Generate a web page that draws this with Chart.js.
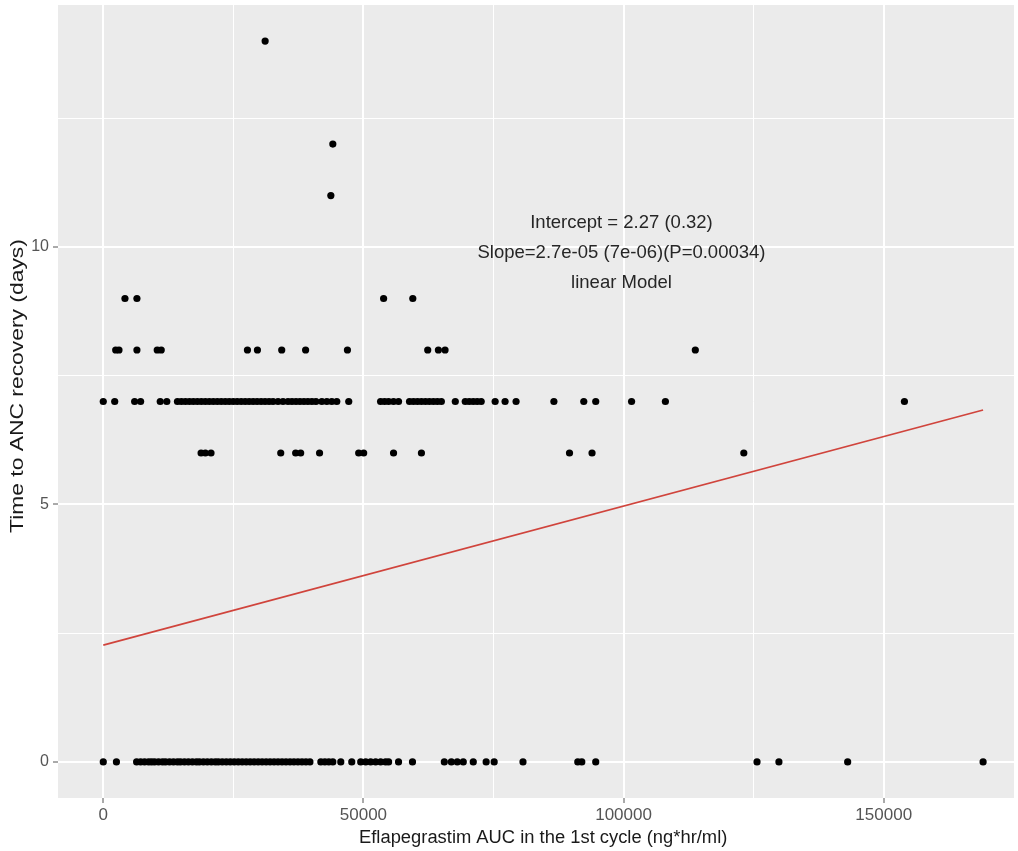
<!DOCTYPE html>
<html>
<head>
<meta charset="utf-8">
<title>Time to ANC recovery vs Eflapegrastim AUC</title>
<script src="https://cdn.jsdelivr.net/npm/chart.js@4.4.1/dist/chart.umd.min.js"></script>
<style>
  html, body { margin: 0; padding: 0; background: #ffffff; }
  #wrap { width: 1018px; height: 851px; }
</style>
</head>
<body>
<div id="wrap"><canvas id="c" width="1018" height="851"></canvas></div>
<script>
// Eflapegrastim AUC (ng*hr/ml) of each patient, grouped by time to ANC recovery (days)
const aucDays0 = [0, 2530, 6410, 7180, 7940, 8710, 9280, 9860, 10620, 11390, 11960, 12730,
  13490, 14260, 14830, 15600, 16360, 17130, 17900, 18470, 19240, 20000, 20770, 21530,
  22110, 22870, 23640, 24400, 25170, 25940, 26700, 27470, 28230, 29000, 29770, 30530,
  31300, 32060, 32830, 33590, 34360, 35120, 35890, 36650, 37420, 38190, 38950, 39720,
  41820, 42590, 43350, 44120, 45650, 47760, 49480, 50440, 51390, 52350, 53310, 54260,
  54840, 56750, 59430, 65550, 66900, 68040, 69190, 71110, 73590, 75130, 80670, 91200,
  91970, 94650, 125650, 129860, 143070, 169100];
const aucDays6 = [18800, 19620, 20710, 34110, 36980, 37940, 41570, 49090, 50050, 55790,
  61150, 89610, 93940, 123110];
const aucDays7 = [0, 2200, 6030, 7180, 10950, 12210, 14260, 15020, 15790, 16560, 17320,
  18090, 18850, 19620, 20380, 21150, 21920, 22680, 23450, 24210, 24980, 25740, 26510,
  27280, 28040, 28810, 29570, 30340, 31100, 31870, 32630, 33590, 34550, 35510, 36270,
  37040, 37800, 38570, 39330, 40100, 40870, 42010, 42970, 43920, 44880, 47180, 53300,
  54070, 54840, 55790, 56750, 58860, 59620, 60390, 61150, 61920, 62680, 63450, 64210,
  64980, 67660, 69570, 70340, 71110, 71870, 72640, 75320, 77230, 79340, 86610, 92350,
  94650, 101540, 108040, 153980];
const aucDays8 = [2390, 3020, 6470, 10370, 11140, 27710, 29630, 34300, 38890, 46930,
  62360, 64410, 65690, 113790];
const aucDays9 = [4170, 6470, 53880, 59490];
const aucDays11 = [43740];
const aucDays12 = [44120];
const aucDays14 = [31110];

// Fitted linear model (estimate, standard error)
const interceptEst = 2.27;
const slopeEst = 2.7e-05;
const modelLines = [
  'Intercept = 2.27 (0.32)',
  'Slope=2.7e-05 (7e-06)(P=0.00034)',
  'linear Model'
];

// Axis breaks
const xMajorTicks = [0, 50000, 100000, 150000];
const xMinorTicks = [25000, 75000, 125000];
const yMajorTicks = [0, 5, 10];
const yMinorTicks = [2.5, 7.5, 12.5];

const xTitle = 'Eflapegrastim AUC in the 1st cycle (ng*hr/ml)';
const yTitle = 'Time to ANC recovery (days)';

// ---- build the library data from the arrays above ----
const groups = [[0, aucDays0], [6, aucDays6], [7, aucDays7], [8, aucDays8], [9, aucDays9],
  [11, aucDays11], [12, aucDays12], [14, aucDays14]];
const points = [];
groups.forEach(([days, list]) => list.forEach(v => points.push({ x: v, y: days })));
const allAuc = points.map(p => p.x);
const aucMin = Math.min(...allAuc);
const aucMax = Math.max(...allAuc);
const fitLine = [aucMin, aucMax].map(v => ({ x: v, y: interceptEst + slopeEst * v }));

const FONT = "'Liberation Sans', Arial, sans-serif";
const PANEL = '#EBEBEB';

function withTicks(major, minor) {
  return function (scale) {
    scale.ticks = major.concat(minor).sort((a, b) => a - b).map(v => ({ value: v }));
  };
}

// Panel background, model annotation and axis titles
const panelPlugin = {
  id: 'panel',
  beforeDraw(chart) {
    const { ctx, chartArea: a } = chart;
    ctx.save();
    ctx.fillStyle = '#ffffff';
    ctx.fillRect(0, 0, chart.width, chart.height);
    ctx.fillStyle = PANEL;
    ctx.fillRect(a.left, a.top, a.right - a.left, a.bottom - a.top);
    ctx.restore();
  },
  afterDatasetsDraw(chart) {
    const { ctx, scales } = chart;
    const cx = scales.x.getPixelForValue(99600);
    const ys = [10.47, 9.89, 9.31];
    ctx.save();
    ctx.fillStyle = '#262626';
    ctx.font = '18.5px ' + FONT;
    ctx.textAlign = 'center';
    ctx.textBaseline = 'middle';
    modelLines.forEach((t, i) => ctx.fillText(t, cx, scales.y.getPixelForValue(ys[i])));
    ctx.restore();
  },
  afterDraw(chart) {
    const { ctx, scales } = chart;
    ctx.save();
    ctx.fillStyle = '#1a1a1a';
    ctx.font = '18px ' + FONT;
    ctx.textAlign = 'center';
    ctx.textBaseline = 'middle';
    // x title, centred under the full plotting range
    const xc = (scales.x.getPixelForValue(-8455) + scales.x.getPixelForValue(177555)) / 2;
    ctx.save();
    ctx.translate(xc, 838);
    ctx.scale(1.02, 1);
    ctx.fillText(xTitle, 0, 0);
    ctx.restore();
    // y title, rotated and drawn slightly elongated
    const yc = scales.y.getPixelForValue(7.3);
    ctx.save();
    ctx.translate(18, yc);
    ctx.rotate(-Math.PI / 2);
    ctx.scale(1.27, 1);
    ctx.fillText(yTitle, 0, 0);
    ctx.restore();
    ctx.restore();
  }
};

function fitBox(size, horizontal) {
  return function (scale) {
    if (horizontal) { scale.height = size; scale.paddingLeft = 0; scale.paddingRight = 0; }
    else { scale.width = size; scale.paddingTop = 0; scale.paddingBottom = 0; }
  };
}

new Chart(document.getElementById('c'), {
  type: 'scatter',
  data: {
    datasets: [
      {
        type: 'line',
        label: 'fit',
        data: fitLine,
        borderColor: '#D0443C',
        borderWidth: 1.7,
        pointRadius: 0,
        fill: false,
        order: 0
      },
      {
        label: 'patients',
        data: points,
        backgroundColor: '#000000',
        borderColor: '#000000',
        borderWidth: 0,
        pointRadius: 3.6,
        order: 1
      }
    ]
  },
  options: {
    responsive: false,
    animation: false,
    events: [],
    layout: { padding: { top: 5, right: 0, left: 0, bottom: 0 } },
    plugins: { legend: { display: false }, title: { display: false }, tooltip: { enabled: false } },
    scales: {
      x: {
        type: 'linear',
        min: -8700,
        max: 175040,
        afterBuildTicks: withTicks(xMajorTicks, xMinorTicks),
        afterFit: fitBox(53, true),
        border: { display: false },
        grid: {
          color: '#ffffff',
          lineWidth: (c) => (xMajorTicks.includes(c.tick && c.tick.value) ? 2 : 1),
          drawTicks: true,
          tickLength: 5,
          tickColor: (c) => (xMajorTicks.includes(c.tick && c.tick.value) ? '#555555' : 'rgba(0,0,0,0)'),
          tickWidth: 1
        },
        ticks: {
          autoSkip: false,
          maxRotation: 0,
          padding: 2,
          color: '#555555',
          font: { family: FONT, size: 17 },
          callback: (v) => (xMajorTicks.includes(v) ? String(v) : '')
        },
        title: { display: false }
      },
      y: {
        type: 'linear',
        min: -0.7,
        max: 14.7,
        afterBuildTicks: withTicks(yMajorTicks, yMinorTicks),
        afterFit: fitBox(58, false),
        border: { display: false },
        grid: {
          color: '#ffffff',
          lineWidth: (c) => (yMajorTicks.includes(c.tick && c.tick.value) ? 2 : 1),
          drawTicks: true,
          tickLength: 5,
          tickColor: (c) => (yMajorTicks.includes(c.tick && c.tick.value) ? '#555555' : 'rgba(0,0,0,0)'),
          tickWidth: 1
        },
        ticks: {
          autoSkip: false,
          padding: 4,
          color: '#555555',
          font: { family: FONT, size: 16 },
          callback: (v) => (yMajorTicks.includes(v) ? String(v) : '')
        },
        title: { display: false }
      }
    }
  },
  plugins: [panelPlugin]
});
</script>
</body>
</html>
